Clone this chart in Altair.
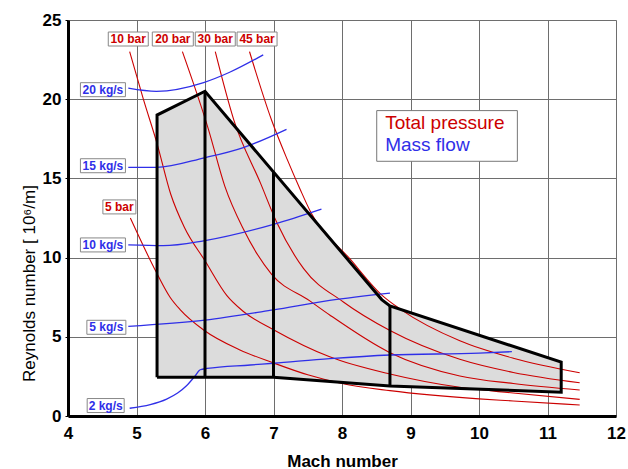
import altair as alt
import pandas as pd

# ---------------- data (Mach number, Reynolds number [1e6/m]) ----------------
# Total pressure curves
P5_M = [4.91, 5.29, 5.49, 5.64, 5.98, 6.51, 7.0, 7.5, 8.0, 8.7, 10.0, 10.5, 11.47]
P5_R = [12.5, 9.07, 7.5, 6.7, 5.43, 4.17, 3.35, 2.6, 2.05, 1.6, 1.08, 0.95, 0.69]
P10_M = [4.9, 5.1, 5.3, 5.5, 5.7, 6.0, 6.32, 6.56, 7.0, 7.82, 8.7, 9.72, 10.5, 11.47]
P10_R = [23.0, 20.0, 17.2, 14.0, 11.9, 9.8, 7.6, 6.6, 5.45, 3.74, 2.65, 1.81, 1.45, 1.05]
P20_M = [5.67, 6.05, 6.29, 6.56, 6.97, 7.53, 7.82, 8.7, 9.72, 10.5, 11.47]
P20_R = [23.0, 18.1, 14.5, 11.8, 8.96, 7.27, 6.38, 4.0, 2.53, 2.05, 1.64]
P30_M = [6.15, 6.42, 6.81, 7.05, 7.44, 8.02, 8.7, 9.72, 10.5, 11.47]
P30_R = [23.0, 18.7, 14.7, 12.2, 9.3, 7.2, 5.4, 3.58, 2.75, 2.1]
P45_M = [6.65, 6.97, 7.2, 7.39, 7.54, 8.12, 8.59, 8.85, 9.72, 10.5, 11.47]
P45_R = [23.0, 18.7, 16.2, 14.3, 12.9, 9.9, 7.6, 6.75, 4.75, 3.65, 2.73]

# Mass flow curves
F2_M = [4.9, 5.2, 5.44, 5.6, 5.73, 5.85, 5.93, 6.03, 6.66, 7.0, 7.82, 8.7, 10.0, 10.48]
F2_R = [0.49, 0.72, 1.07, 1.45, 1.91, 2.5, 2.92, 3.0, 3.22, 3.33, 3.62, 3.85, 3.97, 4.06]
F5_M = [4.88, 6.0, 7.0, 7.82, 8.7]
F5_R = [5.66, 6.05, 6.7, 7.3, 7.76]
F10_M = [4.88, 5.39, 5.98, 7.0, 7.7]
F10_R = [10.8, 10.75, 11.06, 12.1, 13.06]
F15_M = [4.88, 5.29, 5.99, 6.56, 7.19]
F15_R = [15.7, 15.7, 16.3, 16.95, 18.1]
F20_M = [4.88, 5.29, 5.98, 6.36, 6.85]
F20_R = [20.7, 20.5, 21.05, 21.7, 22.8]

# Operating envelope
ENV_M = [5.3, 5.3, 6.0, 8.58, 8.7, 11.2, 11.2, 8.7, 7.0, 5.3]
ENV_R = [2.45, 19.0, 20.5, 7.35, 6.95, 3.4, 1.5, 1.9, 2.45, 2.45]
# envelope fill: upper and lower edges
FILL_M = [5.3, 6.0, 7.0, 8.58, 8.7, 11.2]
FILL_TOP = [19.0, 20.5, 15.4, 7.35, 6.95, 3.4]
FILL_BOT = [2.45, 2.45, 2.45, 1.94, 1.9, 1.5]
# inner dividers
DIV_M = [6.0, 7.0, 8.7]
DIV_LO = [2.45, 2.45, 1.9]
DIV_HI = [20.5, 15.4, 6.95]

# Curve labels
P_LABELS = ["5 bar", "10 bar", "20 bar", "30 bar", "45 bar"]
P_LAB_M = [4.75, 4.88, 5.53, 6.15, 6.76]
P_LAB_R = [13.2, 23.8, 23.8, 23.8, 23.8]
P_LAB_W = [33, 40, 41, 40, 40]
F_LABELS = ["2 kg/s", "5 kg/s", "10 kg/s", "15 kg/s", "20 kg/s"]
F_LAB_M = [4.55, 4.56, 4.51, 4.51, 4.51]
F_LAB_R = [0.66, 5.6, 10.8, 15.8, 20.6]
F_LAB_W = [37, 39, 45, 45, 45]

LEGEND_TEXT = ["Total pressure", "Mass flow"]

# ---------------- layout ----------------
W, H = 548, 396
XMIN, XMAX, YMIN, YMAX = 4, 12, 0, 25
PX_X = W / (XMAX - XMIN)
PX_Y = H / (YMAX - YMIN)
FONT = "Liberation Sans"
RED = "#cc0000"
BLUE = "#2f2fe8"

def long(series):
    rows = []
    for name, ms, rs in series:
        for i, (m, r) in enumerate(zip(ms, rs)):
            rows.append({"M": m, "R": r, "curve": name, "i": i})
    return pd.DataFrame(rows)

red_df = long([("5", P5_M, P5_R), ("10", P10_M, P10_R), ("20", P20_M, P20_R),
               ("30", P30_M, P30_R), ("45", P45_M, P45_R)])
blue_df = long([("2", F2_M, F2_R), ("5", F5_M, F5_R), ("10", F10_M, F10_R),
                ("15", F15_M, F15_R), ("20", F20_M, F20_R)])
env_df = pd.DataFrame({"M": ENV_M, "R": ENV_R, "i": range(len(ENV_M))})
fill_df = pd.DataFrame({"M": FILL_M, "R": FILL_TOP, "R2": FILL_BOT})
div_df = pd.DataFrame({"M": DIV_M, "R": DIV_LO, "R2": DIV_HI})

lab_rows = []
for t, m, r, w in zip(P_LABELS, P_LAB_M, P_LAB_R, P_LAB_W):
    lab_rows.append({"label": t, "M": m, "R": r, "w": w, "kind": "p"})
for t, m, r, w in zip(F_LABELS, F_LAB_M, F_LAB_R, F_LAB_W):
    lab_rows.append({"label": t, "M": m, "R": r, "w": w, "kind": "f"})
lab_df = pd.DataFrame(lab_rows)
box_df = lab_df.copy()
box_df["M2"] = box_df["M"] + box_df["w"] / 2 / PX_X
box_df["M"] = box_df["M"] - box_df["w"] / 2 / PX_X
box_df["R2"] = box_df["R"] + 7 / PX_Y
box_df["R"] = box_df["R"] - 7 / PX_Y

leg_box = pd.DataFrame({"M": [8.507], "M2": [10.56], "R": [16.08], "R2": [19.28]})
leg_text = pd.DataFrame({"M": [8.63, 8.63], "R": [18.1, 16.7], "label": LEGEND_TEXT,
                         "kind": ["p", "f"]})

x_axis = alt.Axis(values=list(range(4, 13)), grid=True, gridColor="#6e6e6e", gridWidth=1,
                  domainColor="black", domainWidth=3, ticks=False, labelFlush=False,
                  labelFont=FONT, labelFontSize=17, labelFontWeight="bold", labelColor="black",
                  labelPadding=9, title="Mach number", titleFont=FONT, titleFontSize=17,
                  titleFontWeight="bold", titleColor="black", titleY=45, titleBaseline="middle")
y_axis = alt.Axis(values=[0, 5, 10, 15, 20, 25], grid=True, gridColor="#6e6e6e", gridWidth=1,
                  domainColor="black", domainWidth=3, tickSize=3, tickColor="black",
                  labelFlush=False, labelFont=FONT, labelFontSize=17, labelFontWeight="bold",
                  labelColor="black", labelPadding=4,
                  title="Reynolds number  [ 10⁶/m]", titleFont=FONT, titleFontSize=17,
                  titleFontWeight="normal", titleColor="black", titleAngle=-90,
                  titleX=-39, titleY=263, titleAlign="center", titleBaseline="middle")

X = alt.X("M:Q", scale=alt.Scale(domain=[XMIN, XMAX], nice=False, zero=False), axis=x_axis)
Y = alt.Y("R:Q", scale=alt.Scale(domain=[YMIN, YMAX], nice=False, zero=False), axis=y_axis)

fill = alt.Chart(fill_df).mark_area(color="#dcdcdc", opacity=1).encode(x=X, y=Y, y2="R2:Q")

red = alt.Chart(red_df).mark_line(color=RED, strokeWidth=1.1, interpolate="monotone").encode(
    x=X, y=Y, detail="curve:N", order="i:Q")
blue = alt.Chart(blue_df).mark_line(color=BLUE, strokeWidth=1.3, interpolate="monotone").encode(
    x=X, y=Y, detail="curve:N", order="i:Q")

env = alt.Chart(env_df).mark_line(color="black", strokeWidth=3, strokeJoin="miter").encode(
    x=X, y=Y, order="i:Q")
divs = alt.Chart(div_df).mark_rule(color="black", strokeWidth=3).encode(x=X, y=Y, y2="R2:Q")

boxes = alt.Chart(box_df).mark_rect(fill="white", stroke="#888888", strokeWidth=1).encode(
    x=X, x2="M2:Q", y=Y, y2="R2:Q")
labels = alt.Chart(lab_df).mark_text(font=FONT, fontSize=12, fontWeight="bold",
                                     align="center", baseline="middle").encode(
    x=X, y=Y, text="label:N",
    color=alt.Color("kind:N", scale=alt.Scale(domain=["p", "f"], range=[RED, BLUE]), legend=None))

lbox = alt.Chart(leg_box).mark_rect(fill="white", stroke="#777777", strokeWidth=1).encode(
    x=X, x2="M2:Q", y=Y, y2="R2:Q")
ltext = alt.Chart(leg_text).mark_text(font=FONT, fontSize=19, align="left",
                                      baseline="alphabetic").encode(
    x=X, y=Y, text="label:N",
    color=alt.Color("kind:N", scale=alt.Scale(domain=["p", "f"], range=[RED, BLUE]), legend=None))

chart = alt.layer(fill, red, blue, env, divs, boxes, labels, lbox, ltext).properties(
    width=W, height=H,
    autosize=alt.AutoSizeParams(type="none"),
    padding={"left": 68, "top": 20, "right": 12, "bottom": 53},
).configure_view(stroke=None, fill="#f3f3f3").configure(background="white")

chart.save("out.html", embed_options={"renderer": "svg", "actions": False})
